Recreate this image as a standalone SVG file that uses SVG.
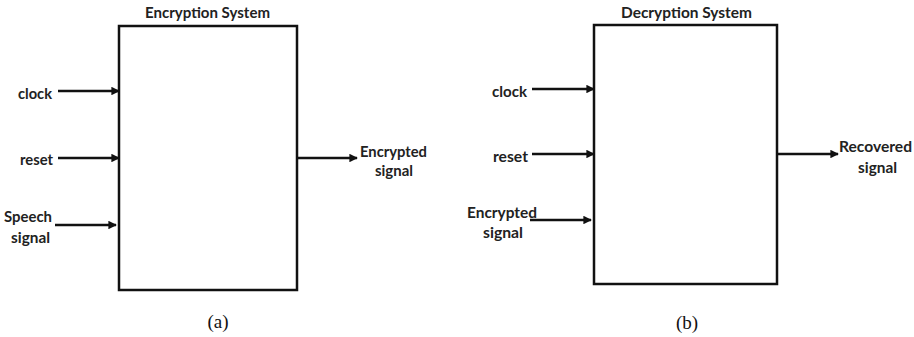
<svg xmlns="http://www.w3.org/2000/svg" width="914" height="337" viewBox="0 0 914 337">
<style>
.lbl{font-family:Lato,"Open Sans","Liberation Sans",sans-serif;font-weight:bold;font-size:15px;fill:#222}
.cap{font-family:"Liberation Serif","Times New Roman",serif;font-size:19px;fill:#111;text-anchor:middle}
.box{fill:#fff;stroke:#111;stroke-width:2.5}
.wire{stroke:#111;stroke-width:2.5;fill:none;marker-end:url(#ah)}
</style>
<defs>
<marker id="ah" viewBox="0 0 10 10" refX="9" refY="5" markerWidth="3.4" markerHeight="3.4" orient="auto" markerUnits="strokeWidth">
<path d="M0,0 L10,5 L0,10 z" fill="#111"/>
</marker>
</defs>
<rect width="914" height="337" fill="#fff"/>
<g id="enc">
<rect class="box" x="119" y="26" width="178" height="264"/>
<text class="lbl" x="145" y="18" textLength="125" lengthAdjust="spacingAndGlyphs">Encryption System</text>
</g>
<g id="enc-labels">
<text class="lbl" x="18" y="99" textLength="34" lengthAdjust="spacingAndGlyphs">clock</text>
<text class="lbl" x="20" y="165" textLength="33" lengthAdjust="spacingAndGlyphs">reset</text>
<text class="lbl" x="4" y="222" textLength="48" lengthAdjust="spacingAndGlyphs">Speech</text>
<text class="lbl" x="11" y="243" textLength="39" lengthAdjust="spacingAndGlyphs">signal</text>
<text class="lbl" x="360" y="157" textLength="67" lengthAdjust="spacingAndGlyphs">Encrypted</text>
<text class="lbl" x="375" y="176" textLength="38" lengthAdjust="spacingAndGlyphs">signal</text>
<text class="cap" x="218" y="328">(a)</text>
</g>
<g id="dec">
<rect class="box" x="594" y="25" width="183" height="259"/>
<text class="lbl" x="621" y="18" textLength="131" lengthAdjust="spacingAndGlyphs">Decryption System</text>
</g>
<g id="dec-labels">
<text class="lbl" x="492" y="97" textLength="35" lengthAdjust="spacingAndGlyphs">clock</text>
<text class="lbl" x="493" y="162" textLength="35" lengthAdjust="spacingAndGlyphs">reset</text>
<text class="lbl" x="467" y="218" textLength="70" lengthAdjust="spacingAndGlyphs">Encrypted</text>
<text class="lbl" x="483" y="238" textLength="40" lengthAdjust="spacingAndGlyphs">signal</text>
<text class="lbl" x="839" y="152" textLength="73" lengthAdjust="spacingAndGlyphs">Recovered</text>
<text class="lbl" x="858" y="173" textLength="39" lengthAdjust="spacingAndGlyphs">signal</text>
<text class="cap" x="687" y="329">(b)</text>
</g>
<g id="connectors">
<line class="wire" x1="58" y1="91" x2="119" y2="91"/>
<line class="wire" x1="58" y1="158" x2="119" y2="158"/>
<line class="wire" x1="55" y1="225" x2="116" y2="225"/>
<line class="wire" x1="297" y1="158" x2="357" y2="158"/>
<line class="wire" x1="532" y1="89" x2="594" y2="89"/>
<line class="wire" x1="532" y1="154" x2="594" y2="154"/>
<line class="wire" x1="530" y1="220" x2="591" y2="220"/>
<line class="wire" x1="777" y1="154" x2="838" y2="154"/>
</g>
</svg>
